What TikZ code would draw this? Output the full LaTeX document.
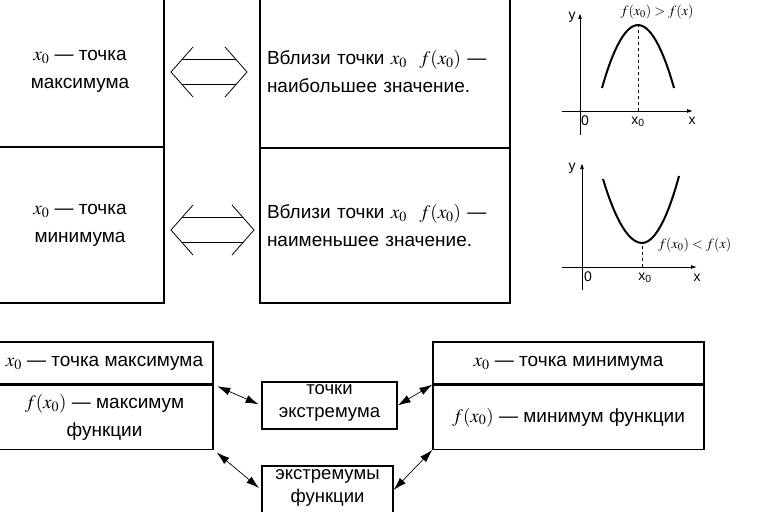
\documentclass[tikz,border=0pt]{standalone}
\usepackage{mathptmx}
\usepackage[no-math]{fontspec}
\setmainfont{Liberation Sans}
\usetikzlibrary{arrows.meta,positioning}

\begin{document}
\begin{tikzpicture}[x=1pt,y=-1pt,
		box/.style={draw, line width=1.3pt, align=center, inner sep=0pt, font=\fontsize{19}{28}\selectfont},
		smallbox/.style={draw, line width=1.3pt, align=center, inner sep=0pt, font=\fontsize{18.5}{23}\selectfont},
		link/.style={{Latex[length=13pt,width=8pt]}-{Latex[length=13pt,width=8pt]}, line width=0.7pt},
		axis/.style={-{Latex[length=6pt,width=4pt]}, line width=0.9pt},
		curve/.style={line width=2pt},
		lbl/.style={font=\fontsize{14}{16}\selectfont, inner sep=1pt}]
		\useasboundingbox (0,0) rectangle (759,511);
		\clip (0,0) rectangle (759,511);

		% Upper boxes
		\node[box, minimum width=168pt, minimum height=152pt] (maxpt) at (80,71) {$x_0$ — точка\\максимума};
		\node[box, minimum width=168pt, minimum height=156pt] (minpt) at (80,225) {$x_0$ — точка\\минимума};
		\node[box, align=left, text width=236pt, inner xsep=7pt, minimum height=153pt] (maxval) at (385,71.5) {Вблизи точки $x_0$\ \ $f(x_0)$ —\\наибольшее значение.};
		\node[box, align=left, text width=236pt, inner xsep=7pt, minimum height=155pt] (minval) at (385,225.5) {Вблизи точки $x_0$\ \ $f(x_0)$ —\\наименьшее значение.};

		% Hollow double arrows
		\foreach \yc/\xr in {72/247, 230/254} {
			\draw[line width=0.8pt] (193,\yc-25) -- (171,\yc) -- (193,\yc+25);
			\draw[line width=0.8pt] (\xr-22,\yc-25) -- (\xr,\yc) -- (\xr-22,\yc+25);
			\draw[line width=0.8pt] (182,\yc-12.5) -- (\xr-11,\yc-12.5);
			\draw[line width=0.8pt] (182,\yc+12.5) -- (\xr-11,\yc+12.5);
		}

		% Graph of the maximum
		\draw[axis] (562,111) -- (693,111);
		\draw[axis] (580,135) -- (580,13);
		\node[lbl] (ya) at (572,17) {y};
		\node[lbl] (xa) at (692,121) {x};
		\node[lbl] (oa) at (585,121) {0};
		\node[lbl] (x0a) at (638,122) {x\textsubscript{0}};
		\draw[dashed, line width=0.8pt] (638,111) -- (638,25);
		\draw[curve] (602,88) parabola bend (638,25) (674,88);
		\node[lbl] (fa) at (657,12) {$f(x_0)>f(x)$};

		% Graph of the minimum
		\draw[axis] (562,267) -- (697,267);
		\draw[axis] (582,290) -- (582,163);
		\node[lbl] (yb) at (572,168) {y};
		\node[lbl] (xb) at (697,278) {x};
		\node[lbl] (ob) at (588,277) {0};
		\node[lbl] (x0b) at (645,278) {x\textsubscript{0}};
		\draw[dashed, line width=0.8pt] (642,267) -- (642,243);
		\draw[curve] (603,179) parabola bend (642,243) (679,176);
		\node[lbl, anchor=west] (fb) at (657,245) {$f(x_0)<f(x)$};

		% Lower boxes
		\node[box, minimum width=217pt, minimum height=42pt] (maxx) at (104.5,363) {$x_0$ — точка максимума};
		\node[box, minimum width=217pt, minimum height=64pt, below=0pt of maxx] (maxf) {$f(x_0)$ — максимум\\функции};
		\node[box, minimum width=271pt, minimum height=42pt] (minx) at (568.5,363) {$x_0$ — точка минимума};
		\node[box, minimum width=271pt, minimum height=64pt, below=0pt of minx] (minf) {$f(x_0)$ — минимум функции};
		\node[smallbox, minimum width=135pt, minimum height=47pt] (tochki) at (329.5,405.5) {точки\\экстремума\rule[-9pt]{0pt}{0pt}};
		\node[smallbox, minimum width=131pt, minimum height=48pt] (ekstr) at (327.5,490) {экстремумы\\функции\rule[-7pt]{0pt}{0pt}};

		% Connectors
		\draw[link, shorten <=4pt, shorten >=3pt] (maxf.north east) -- (tochki.west);
		\draw[link, shorten <=4pt, shorten >=3pt] (maxf.south east) -- (ekstr.west);
		\draw[link] (tochki.east) -- (minf.north west);
		\draw[link] (ekstr.east) -- (minf.south west);
	\end{tikzpicture}
\end{document}
